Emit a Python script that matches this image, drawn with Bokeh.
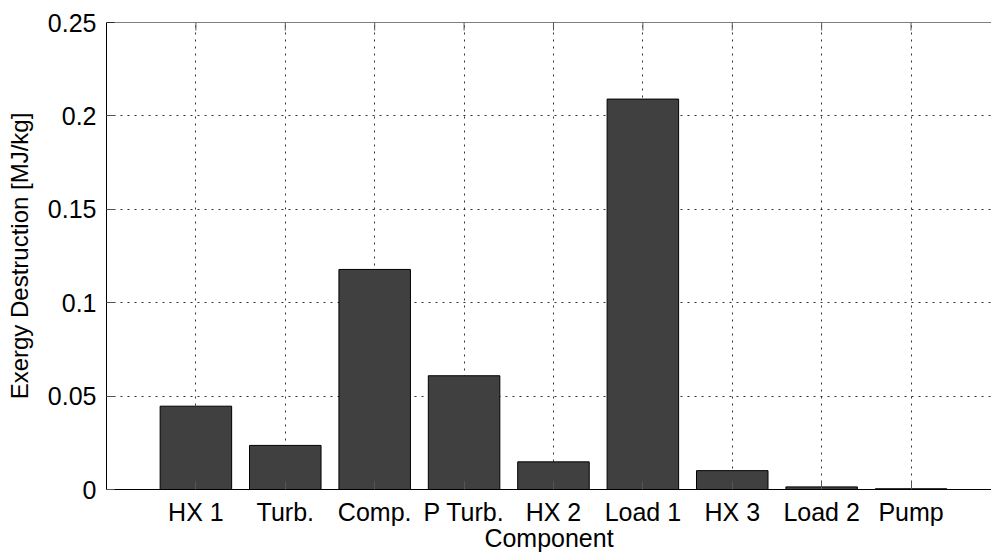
from bokeh.plotting import figure
from bokeh.models import FixedTicker, Range1d, ColumnDataSource, Span
from bokeh.embed import file_html
from bokeh.resources import INLINE

# ---- data ----
components = ["HX 1", "Turb.", "Comp.", "P Turb.", "HX 2", "Load 1", "HX 3", "Load 2", "Pump"]
exergy_destruction = [0.0446, 0.0236, 0.1178, 0.0609, 0.0148, 0.2090, 0.0101, 0.0014, 0.0004]
y_ticks = [0, 0.05, 0.1, 0.15, 0.2, 0.25]
y_tick_labels = ["0", "0.05", "0.1", "0.15", "0.2", "0.25"]

positions = list(range(1, len(components) + 1))
src = ColumnDataSource(dict(x=positions, top=exergy_destruction))

FONT = "Liberation Sans"
FS = "25px"
Y_MAX = 0.25
FRAME_H = 469

p = figure(width=991, height=554, output_backend="svg", toolbar_location=None,
           x_range=Range1d(0, 9.9), y_range=Range1d(0, Y_MAX),
           min_border_left=106, min_border_top=22, min_border_right=0, min_border_bottom=63)
p.outline_line_color = None
p.background_fill_color = "white"
p.border_fill_color = "white"

p.vbar(x="x", top="top", width=0.8, bottom=0, source=src,
       fill_color="#404040", line_color="black", line_width=1)

xa = p.xaxis[0]
xa.ticker = FixedTicker(ticks=positions)
xa.major_label_overrides = {i: c for i, c in zip(positions, components)}
xa.axis_label = "Component"
ya = p.yaxis[0]
ya.ticker = FixedTicker(ticks=y_ticks)
ya.major_label_overrides = {t: l for t, l in zip(y_ticks, y_tick_labels)}
ya.axis_label = "Exergy Destruction [MJ/kg]"

for ax in (xa, ya):
    ax.major_tick_in = 8
    ax.major_tick_out = 0
    ax.minor_tick_in = 0
    ax.minor_tick_out = 0
    ax.axis_line_color = "black"
    ax.major_tick_line_color = "#555555"
    ax.major_label_text_font = FONT
    ax.major_label_text_font_size = FS
    ax.major_label_text_color = "black"
    ax.axis_label_text_font = FONT
    ax.axis_label_text_font_size = FS
    ax.axis_label_text_font_style = "normal"
    ax.axis_label_text_color = "black"

ya.axis_label_text_font_size = "24px"
xa.major_label_standoff = 8
xa.axis_label_standoff = -5
ya.major_label_standoff = 10
ya.axis_label_standoff = 12

# top border of the box with inward ticks
p.add_layout(Span(location=Y_MAX, dimension="width", line_color="black", line_width=1))
tick_len = 8 * Y_MAX / FRAME_H
p.segment(x0=positions, x1=positions, y0=[Y_MAX] * len(positions),
          y1=[Y_MAX - tick_len] * len(positions), line_color="#555555", line_width=1)

# dotted grid
p.xgrid.ticker = FixedTicker(ticks=positions)
p.ygrid.ticker = FixedTicker(ticks=y_ticks)
for g in (p.xgrid, p.ygrid):
    g.grid_line_color = "#333333"
    g.grid_line_dash = "2 5"
    g.grid_line_width = 1

open("out.html", "w").write(file_html(p, INLINE))
